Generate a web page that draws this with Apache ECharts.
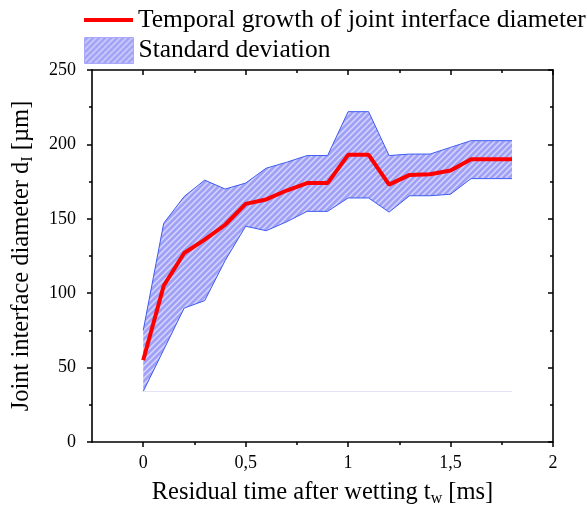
<!DOCTYPE html>
<html>
<head>
<meta charset="utf-8">
<script src="https://cdn.jsdelivr.net/npm/echarts@6/dist/echarts.min.js"></script>
<style>html,body{margin:0;padding:0;background:#fff}#c{width:587px;height:507px}</style>
</head>
<body>
<div id="c"></div>
<script>
// ---- data ----
const time  = [0, 0.1, 0.2, 0.3, 0.4, 0.5, 0.6, 0.7, 0.8, 0.9, 1.0, 1.1, 1.2, 1.3, 1.4, 1.5, 1.6, 1.7, 1.8];
const meanD = [55, 105, 127, 136, 146, 160, 163, 169, 174, 174, 193, 193, 173, 179.5, 180, 182.5, 190, 190, 190];
const upperD = [75, 147, 165, 176, 170, 174, 184, 188, 192.5, 192.5, 222, 222, 192.5, 193.5, 193.5, 198, 202.5, 202.5, 202.5];
const lowerD = [34, 62, 90, 95, 122, 145, 142, 148, 155, 155, 164, 164, 154.5, 165.5, 165.5, 166.5, 177, 177, 177];
const xMajor = [0, 0.5, 1, 1.5, 2];
const xMinor = [0.25, 0.75, 1.25, 1.75];
const seriesNames = ['Temporal growth of joint interface diameter', 'Standard deviation'];

// ---- hatch pattern ----
function makePattern() {
  const s = 6;
  const c = document.createElement('canvas');
  c.width = s; c.height = s;
  const g = c.getContext('2d');
  g.fillStyle = '#a0a0f7';
  g.fillRect(0, 0, s, s);
  g.strokeStyle = '#d6d6fc';
  g.lineWidth = 1.5;
  g.beginPath();
  g.moveTo(0, s); g.lineTo(s, 0);
  g.moveTo(-1, 1); g.lineTo(1, -1);
  g.moveTo(s - 1, s + 1); g.lineTo(s + 1, s - 1);
  g.stroke();
  return c;
}
const hatch = { image: makePattern(), repeat: 'repeat' };

const FONT = 'Liberation Serif';
const chart = echarts.init(document.getElementById('c'), null, { renderer: 'canvas' });

const frameLine = { show: true, onZero: false, lineStyle: { color: '#000', width: 1.6 } };
function xAx(pos, ticks, len, inside, labels, showLine) {
  return {
    type: 'value', position: pos, min: -0.25, max: 2,
    axisLine: Object.assign({}, frameLine, { show: showLine }),
    axisTick: { show: true, inside: inside, length: len, customValues: ticks, lineStyle: { color: '#000', width: 1.5 } },
    axisLabel: labels ? { show: true, customValues: xMajor, margin: 12, color: '#000', fontFamily: FONT, fontSize: 18,
                          formatter: v => String(v).replace('.', ',') } : { show: false },
    splitLine: { show: false }
  };
}
const subRich = { sub: { fontFamily: FONT, fontSize: 16, color: '#000', padding: [12, 0, 0, 0] } };

const xAxes = [
  Object.assign(xAx('bottom', xMajor, 5, false, true, true), {
    name: 'Residual time after wetting t{sub|w} [ms]',
    nameLocation: 'middle', nameGap: 37,
    nameTextStyle: { color: '#000', fontFamily: FONT, fontSize: 24.5, rich: subRich }
  }),
  xAx('bottom', xMinor, 3, false, false, false),
  xAx('top', xMajor, 5, true, false, true),
  xAx('top', xMinor, 3, true, false, false)
];

const yAxes = [
  {
    type: 'value', position: 'left', min: 0, max: 250, interval: 50,
    axisLine: frameLine,
    axisTick: { show: true, inside: false, length: 5, lineStyle: { color: '#000', width: 1.5 } },
    minorTick: { show: true, splitNumber: 2, length: 3, lineStyle: { color: '#000', width: 1.5 } },
    axisLabel: { margin: 16, color: '#000', fontFamily: FONT, fontSize: 18 },
    splitLine: { show: false },
    name: 'Joint interface diameter d{sub|I} [µm]',
    nameLocation: 'middle', nameGap: 56,
    nameTextStyle: { color: '#000', fontFamily: FONT, fontSize: 24.5, rich: subRich }
  },
  {
    type: 'value', position: 'right', min: 0, max: 250, interval: 50,
    axisLine: frameLine,
    axisTick: { show: true, inside: true, length: 5, lineStyle: { color: '#000', width: 1.5 } },
    minorTick: { show: true, splitNumber: 2, length: 3, lineStyle: { color: '#000', width: 1.5 } },
    axisLabel: { show: false },
    splitLine: { show: false }
  }
];

const bandRows = time.map((t, i) => [t, lowerD[i], upperD[i]]);
const lowerPts = time.map((t, i) => [t, lowerD[i]]);
const upperPts = time.map((t, i) => [t, upperD[i]]);
const meanPts = time.map((t, i) => [t, meanD[i]]);

function renderBand(params, api) {
  if (params.dataIndex !== 0) return null;
  const pts = [];
  for (let i = 0; i < time.length; i++) pts.push(api.coord([time[i], upperD[i]]));
  for (let i = time.length - 1; i >= 0; i--) pts.push(api.coord([time[i], lowerD[i]]));
  return { type: 'polygon', shape: { points: pts }, style: { fill: hatch, stroke: null } };
}

chart.setOption({
  animation: false,
  backgroundColor: '#fff',
  grid: { left: 92, right: 34, top: 70, bottom: 65, containLabel: false, outerBoundsMode: 'none' },
  legend: [
    {
      orient: 'vertical', left: 79, top: 2, padding: 5, itemWidth: 49, itemHeight: 4, icon: 'rect',
      textStyle: { color: '#000', fontFamily: FONT, fontSize: 25.5 },
      data: [{ name: seriesNames[0], itemStyle: { color: '#ff0000' } }]
    },
    {
      orient: 'vertical', left: 79, top: 32, padding: 5, itemWidth: 49, itemHeight: 26, icon: 'rect',
      textStyle: { color: '#000', fontFamily: FONT, fontSize: 25.5 },
      data: [{ name: seriesNames[1], itemStyle: { color: hatch, borderColor: '#a9a9fb', borderWidth: 1 } }]
    }
  ],
  xAxis: xAxes,
  yAxis: yAxes,
  series: [
    {
      name: seriesNames[1], type: 'custom', data: bandRows,
      encode: { x: 0, y: [1, 2] },
      renderItem: renderBand,
      itemStyle: { color: '#a0a0f7' },
      z: 1
    },
    {
      name: 'lower', type: 'line', data: lowerPts, symbol: 'none', z: 2,
      lineStyle: { color: '#3f5cf0', width: 1 },
      markLine: {
        silent: true, symbol: 'none', label: { show: false },
        lineStyle: { color: '#e2e2f6', width: 1, type: 'solid' },
        data: [[{ coord: [time[0], lowerD[0]] }, { coord: [time[time.length - 1], lowerD[0]] }]]
      }
    },
    {
      name: 'upper', type: 'line', data: upperPts, symbol: 'none', z: 2,
      lineStyle: { color: '#3f5cf0', width: 1 }
    },
    {
      name: seriesNames[0], type: 'line', data: meanPts, symbol: 'none', z: 5,
      lineStyle: { color: '#ff0000', width: 4 },
      itemStyle: { color: '#ff0000' }
    }
  ]
});
</script>
</body>
</html>
